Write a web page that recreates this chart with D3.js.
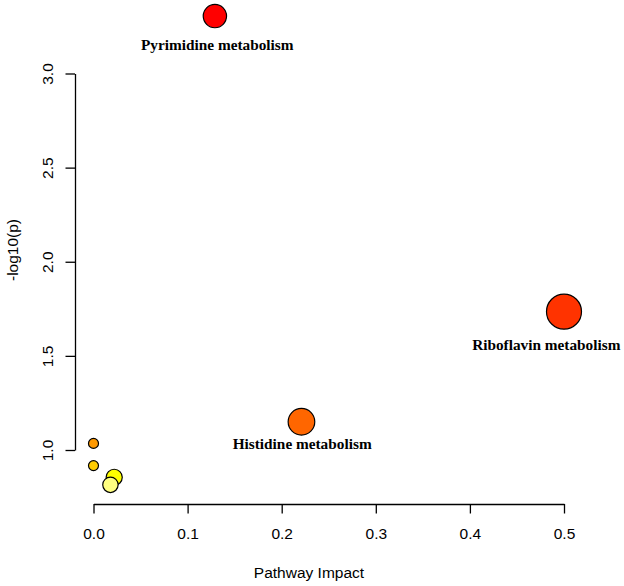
<!DOCTYPE html>
<html lang="en">
<head>
<meta charset="UTF-8" />
<title>Pathway Impact</title>
<script src="https://d3js.org/d3.v7.min.js"></script>
<style>
  body { margin: 0; background: #fff; }
  svg text { font-family: "Liberation Sans", Arial, sans-serif; fill: #000; }
  .lab { font-family: "Liberation Serif", "Times New Roman", serif; font-weight: bold; }
</style>
</head>
<body>
<script>
// pathway data (only three are labelled in the figure)
const pathways = ["Pyrimidine metabolism", "Riboflavin metabolism", "Histidine metabolism", "", "", "", ""];
const impact = [0.129, 0.5, 0.221, 0, 0, 0.022, 0.018];
const logP = [3.305, 1.735, 1.15, 1.035, 0.917, 0.855, 0.815];

const xTicks = [0, 0.1, 0.2, 0.3, 0.4, 0.5];
const yTicks = [1.0, 1.5, 2.0, 2.5, 3.0];

const width = 624;
const height = 586;

// label nudges (px) relative to the node centre
const labelDx = [2.4, -17.7, 0.7];
const labelDy = [34, 38, 27.5];

// R heat.colors(n)
function heatColors(n) {
  const j = Math.floor(n / 4);
  const i = n - j;
  const out = [];
  for (let k = 0; k < i; k++) {
    const h = i > 1 ? (k * 60) / (i - 1) : 0;
    out.push(d3.hsl(h, 1, 0.5).formatHex());
  }
  for (let k = 0; k < j; k++) {
    const s = j > 1 ? (1 - 1 / (2 * j)) - k * ((1 - 1 / j) / (j - 1)) : 0.5;
    const l = 1 - s / 2;
    out.push(d3.hsl(60, (1 - l) / Math.min(l, 1 - l), l).formatHex());
  }
  return out;
}

const data = pathways.map((name, i) => ({ name, impact: impact[i], logp: logP[i] }));
const order = d3.range(data.length).sort((a, b) => data[b].logp - data[a].logp);
const heat = heatColors(data.length);
order.forEach((idx, rank) => (data[idx].color = heat[rank]));

const x = d3.scaleLinear().domain([0, 0.5]).range([93.5, 564]);
const y = d3.scaleLinear().domain([1, 3]).range([450, 73.5]);
const r = d3.scaleLinear().domain([0, 0.02, 0.13, 0.22, 0.5]).range([5, 8, 11.7, 13.3, 17.5]);

const svg = d3.select("body").append("svg")
  .attr("width", width)
  .attr("height", height);

// axes
const xAxis = d3.axisBottom(x)
  .tickValues(xTicks)
  .tickFormat(d3.format(".1f"))
  .tickSize(9.5)
  .tickSizeOuter(0)
  .tickPadding(14);

const gx = svg.append("g")
  .attr("transform", "translate(0,504)")
  .call(xAxis);

const yAxis = d3.axisLeft(y)
  .tickValues(yTicks)
  .tickFormat(d3.format(".1f"))
  .tickSize(9.5)
  .tickSizeOuter(0);

const gy = svg.append("g")
  .attr("transform", "translate(75,0)")
  .call(yAxis);

gy.selectAll(".tick text")
  .attr("x", null)
  .attr("dy", null)
  .attr("text-anchor", "middle")
  .attr("transform", "translate(-22.5,0) rotate(-90)");

[gx, gy].forEach((g) => {
  g.selectAll("path, line").attr("stroke", "#000").attr("stroke-width", 1.3);
  g.selectAll("text").style("font-size", "15.5px").attr("fill", "#000");
});

// axis titles
svg.append("text")
  .attr("x", 309)
  .attr("y", 578)
  .attr("text-anchor", "middle")
  .style("font-size", "15.5px")
  .text("Pathway Impact");

svg.append("text")
  .attr("transform", "translate(17.5,250) rotate(-90)")
  .attr("text-anchor", "middle")
  .style("font-size", "15.5px")
  .text("-log10(p)");

// nodes
svg.append("g")
  .selectAll("circle")
  .data(data)
  .join("circle")
  .attr("cx", (d) => x(d.impact))
  .attr("cy", (d) => y(d.logp))
  .attr("r", (d) => r(d.impact))
  .attr("fill", (d) => d.color)
  .attr("stroke", "#000")
  .attr("stroke-width", 1.2);

// labels
svg.append("g")
  .selectAll("text")
  .data(data.filter((d) => d.name))
  .join("text")
  .attr("class", "lab")
  .attr("x", (d, i) => x(d.impact) + labelDx[i])
  .attr("y", (d, i) => y(d.logp) + labelDy[i])
  .attr("text-anchor", "middle")
  .style("font-size", "15.3px")
  .text((d) => d.name);
</script>
</body>
</html>
